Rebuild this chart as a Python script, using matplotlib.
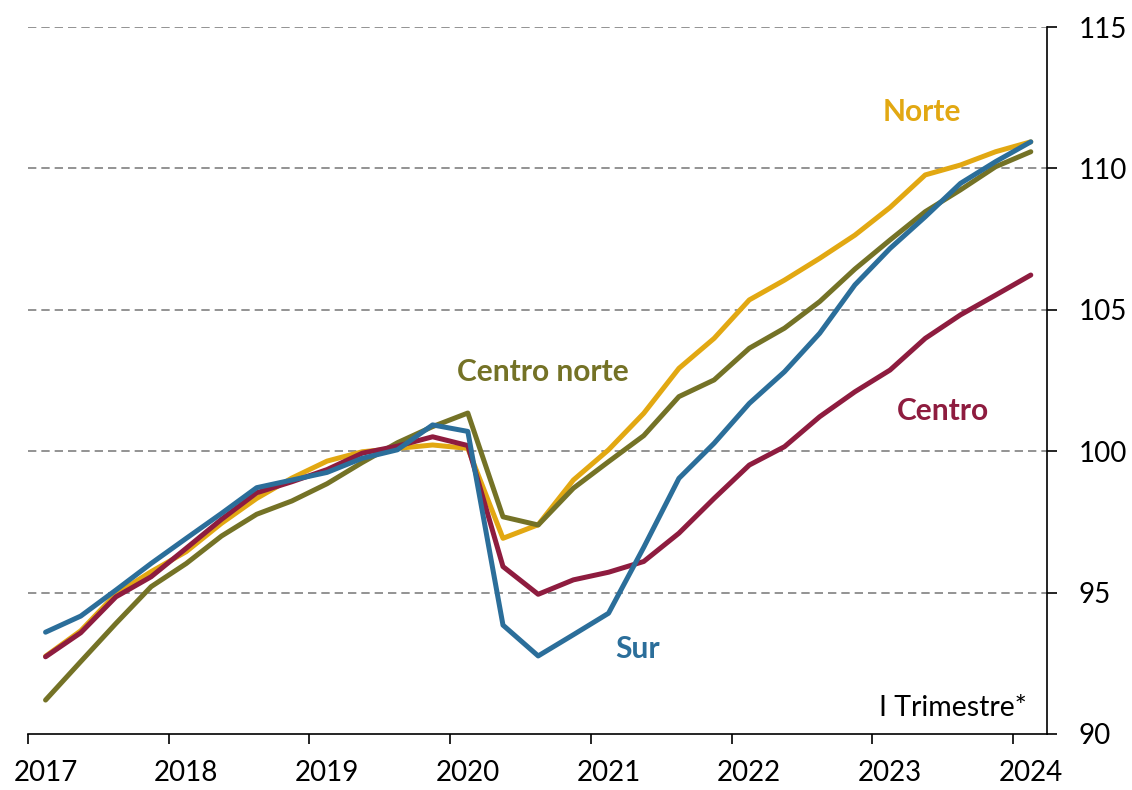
import numpy as np
import matplotlib
matplotlib.use('Agg')
import matplotlib.pyplot as plt

plt.rcParams['font.family'] = ['Lato', 'DejaVu Sans']

# quarterly index, 2017-I .. 2024-I
n_quarters = 29
years = list(range(2017, 2025))

norte = [92.75, 93.65, 94.95, 95.74, 96.45, 97.45, 98.33, 99.05, 99.65, 99.98,
         100.1, 100.22, 100.1, 96.92, 97.4, 98.98, 100.05, 101.34, 102.93, 103.99,
         105.35, 106.05, 106.82, 107.64, 108.62, 109.77, 110.12, 110.59, 110.94]
centro_norte = [91.2, 92.56, 93.91, 95.21, 96.03, 97.0, 97.77, 98.24, 98.85, 99.6,
                100.3, 100.87, 101.35, 97.68, 97.39, 98.69, 99.63, 100.55, 101.93, 102.52,
                103.64, 104.35, 105.29, 106.44, 107.47, 108.47, 109.24, 110.06, 110.59]
centro = [92.73, 93.58, 94.85, 95.56, 96.57, 97.59, 98.53, 98.92, 99.35, 99.93,
          100.18, 100.51, 100.2, 95.92, 94.94, 95.45, 95.72, 96.1, 97.1, 98.33,
          99.51, 100.16, 101.22, 102.1, 102.87, 103.99, 104.82, 105.52, 106.23]
sur = [93.6, 94.17, 95.09, 96.03, 96.92, 97.8, 98.71, 98.98, 99.25, 99.75,
       100.05, 100.93, 100.7, 93.85, 92.76, 93.51, 94.27, 96.6, 99.04, 100.28,
       101.69, 102.81, 104.17, 105.88, 107.17, 108.29, 109.47, 110.24, 110.94]

colors = {'Norte': '#E2A812', 'Centro norte': '#747226',
          'Centro': '#8E1C3F', 'Sur': '#2B6E9A'}

# each quarter is drawn at its mid point
x = 2017 + 0.125 + 0.25 * np.arange(n_quarters)

fig = plt.figure(figsize=(11.32, 7.9), dpi=100)
ax = fig.add_axes([0.0247, 0.0709, 0.9002, 0.8949])

for v in [95, 100, 105, 110, 115]:
    ax.axhline(v, color='#808080', lw=1.2, ls=(0, (5, 3)), zorder=1)

lw = 3.6
ax.plot(x, norte, color=colors['Norte'], lw=lw, solid_capstyle='round', zorder=3)
ax.plot(x, centro_norte, color=colors['Centro norte'], lw=lw, solid_capstyle='round', zorder=4)
ax.plot(x, centro, color=colors['Centro'], lw=lw, solid_capstyle='round', zorder=5)
ax.plot(x, sur, color=colors['Sur'], lw=lw, solid_capstyle='round', zorder=6)

ax.set_xlim(2017, 2024.24)
ax.set_ylim(90, 115)

for s in ['top', 'left']:
    ax.spines[s].set_visible(False)
for s in ['bottom', 'right']:
    ax.spines[s].set_linewidth(1.2)

ax.yaxis.tick_right()
ax.set_yticks([90, 95, 100, 105, 110, 115])
ax.tick_params(axis='y', which='major', direction='out', length=7, width=1.2,
               pad=16, labelsize=20)

# year ticks on the boundaries, labels under the first quarter
ax.set_xticks(years)
ax.set_xticklabels([])
ax.set_xticks([y + 0.125 for y in years], minor=True)
ax.set_xticklabels([str(y) for y in years], minor=True)
ax.tick_params(axis='x', which='major', direction='out', length=7, width=1.2)
ax.tick_params(axis='x', which='minor', length=0, pad=19, labelsize=20)

ax.text(0.980, 0.018, 'I Trimestre*', transform=ax.transAxes, ha='right', va='bottom',
        fontsize=20.5)

lab = dict(fontsize=21.5, fontweight='bold', ha='center', va='center')
ax.text(2023.35, 112.0, 'Norte', color=colors['Norte'], **lab)
ax.text(2020.66, 102.8, 'Centro norte', color=colors['Centro norte'], **lab)
ax.text(2023.5, 101.42, 'Centro', color=colors['Centro'], **lab)
ax.text(2021.33, 93.0, 'Sur', color=colors['Sur'], **lab)

fig.savefig('out.png', dpi=100)
